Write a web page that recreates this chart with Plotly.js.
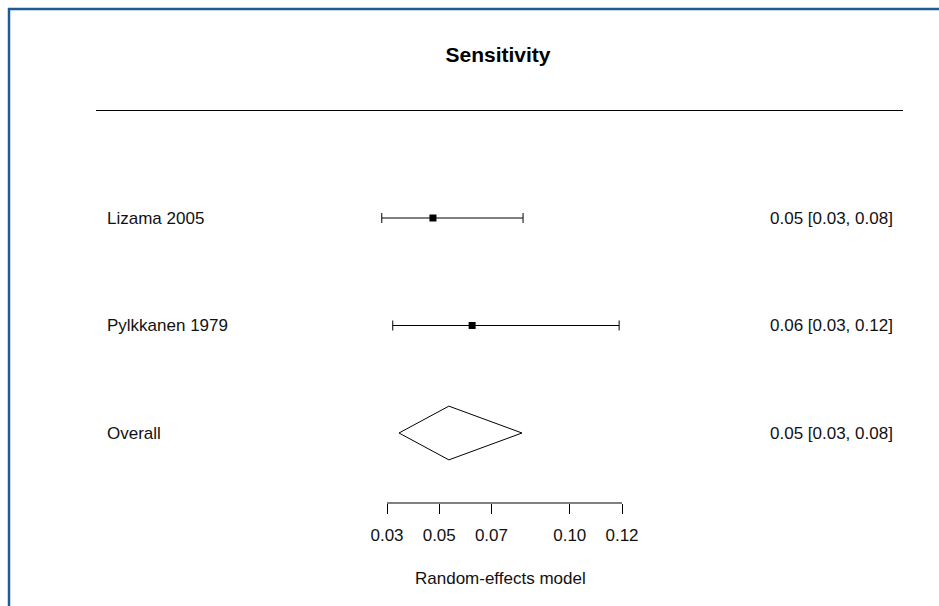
<!DOCTYPE html>
<html>
<head>
<meta charset="utf-8">
<script src="https://cdn.plot.ly/plotly-3.0.1.min.js"></script>
<style>
  html, body { margin: 0; padding: 0; background: #fff; }
  #chart { width: 939px; height: 606px; }
</style>
</head>
<body>
<div id="chart"></div>
<script>
// ---- data ----
const studies = ["Lizama 2005", "Pylkkanen 1979"];
const estimates = [0.0476, 0.0626];
const ciLower = [0.0280, 0.0322];
const ciUpper = [0.0821, 0.1189];

const overallLabel = "Overall";
const overallEstimate = 0.0537;
const overallLower = 0.0346;
const overallUpper = 0.0817;

const tickValues = [0.03, 0.05, 0.07, 0.10, 0.12];
const tickLabels = ["0.03", "0.05", "0.07", "0.10", "0.12"];

const chartTitle = "Sensitivity";
const axisLabel = "Random-effects model";

// ---- layout helpers ----
const W = 939, H = 606;
const FONT = "Liberation Sans, Arial, sans-serif";
const k = studies.length;
// study rows from top: k+1 ... 2, overall at 1
const rowY = studies.map((_, i) => k + 1 - i);
const overallY = 1;
const diamondH = 0.25;
const fmt = (v) => v.toFixed(2);
const ciText = (e, l, u) => fmt(e) + " [" + fmt(l) + ", " + fmt(u) + "]";

// axis pixel mapping: plot area spans the full width
const pxPerUnit = (622 - 387) / (tickValues[tickValues.length - 1] - tickValues[0]);
const xmin = tickValues[0] - 387 / pxPerUnit;
const xmax = tickValues[0] + (W - 387) / pxPerUnit;
const plotBottomPx = 503;
const rowPx = 107.5;
const ymin = overallY - (plotBottomPx - 433) / rowPx;
const ymax = overallY + 433 / rowPx;

const traces = [
  {
    type: "scatter",
    mode: "markers",
    x: estimates,
    y: rowY,
    marker: { symbol: "square", size: 7, color: "#000" },
    error_x: {
      type: "data",
      symmetric: false,
      array: estimates.map((e, i) => ciUpper[i] - e),
      arrayminus: estimates.map((e, i) => e - ciLower[i]),
      color: "#000",
      thickness: 1,
      width: 5
    },
    hoverinfo: "skip",
    showlegend: false
  },
  {
    type: "scatter",
    mode: "lines",
    x: [overallLower, overallEstimate, overallUpper, overallEstimate, overallLower],
    y: [overallY, overallY + diamondH, overallY, overallY - diamondH, overallY],
    line: { color: "#000", width: 1 },
    hoverinfo: "skip",
    showlegend: false
  }
];

const labelFont = { family: FONT, size: 17, color: "#111" };
const annotations = [];
studies.forEach((s, i) => {
  annotations.push({
    xref: "paper", yref: "y", x: 105 / W, y: rowY[i],
    text: s, showarrow: false, xanchor: "left", yanchor: "middle",
    font: labelFont
  });
  annotations.push({
    xref: "paper", yref: "y", x: 895 / W, y: rowY[i],
    text: ciText(estimates[i], ciLower[i], ciUpper[i]), showarrow: false,
    xanchor: "right", yanchor: "middle",
    font: labelFont
  });
});
annotations.push({
  xref: "paper", yref: "y", x: 105 / W, y: overallY,
  text: overallLabel, showarrow: false, xanchor: "left", yanchor: "middle",
  font: labelFont
});
annotations.push({
  xref: "paper", yref: "y", x: 895 / W, y: overallY,
  text: ciText(overallEstimate, overallLower, overallUpper), showarrow: false,
  xanchor: "right", yanchor: "middle",
  font: labelFont
});
annotations.push({
  xref: "paper", yref: "paper", x: 500 / W, y: (plotBottomPx - 578) / plotBottomPx,
  text: axisLabel, showarrow: false, xanchor: "center", yanchor: "middle",
  font: { family: FONT, size: 17, color: "#111" }
});

const shapes = [
  // header rule
  { type: "line", xref: "paper", yref: "y", x0: 96 / W, x1: 903 / W, y0: k + 2, y1: k + 2,
    line: { color: "#000", width: 1 } },
  // x axis line over the tick span
  { type: "line", xref: "x", yref: "paper", x0: tickValues[0], x1: tickValues[tickValues.length - 1],
    y0: 0, y1: 0, line: { color: "#000", width: 1 } },
  // blue frame (left and top edges)
  { type: "line", xref: "paper", yref: "paper", x0: 9 / W, x1: 9 / W,
    y0: (plotBottomPx - 8) / plotBottomPx, y1: (plotBottomPx - H - 5) / plotBottomPx,
    line: { color: "#1b5c96", width: 2.5 } },
  { type: "line", xref: "paper", yref: "paper", x0: 8 / W, x1: (W + 5) / W,
    y0: (plotBottomPx - 9) / plotBottomPx, y1: (plotBottomPx - 9) / plotBottomPx,
    line: { color: "#1b5c96", width: 2.5 } }
];

const layout = {
  width: W, height: H,
  margin: { l: 0, r: 0, t: 0, b: H - plotBottomPx, pad: 0 },
  paper_bgcolor: "#fff",
  plot_bgcolor: "#fff",
  title: {
    text: "<b>" + chartTitle + "</b>",
    x: 498 / W, xanchor: "center",
    y: 1 - 55 / H, yanchor: "middle", yref: "container",
    font: { family: FONT, size: 21, color: "#000" }
  },
  xaxis: {
    range: [xmin, xmax],
    showgrid: false, zeroline: false, showline: false,
    tickmode: "array", tickvals: tickValues, ticktext: tickLabels,
    ticks: "outside", ticklen: 10, tickwidth: 1, tickcolor: "#000",
    ticklabelstandoff: 7,
    tickfont: { family: FONT, size: 17, color: "#111" },
    fixedrange: true
  },
  yaxis: {
    range: [ymin, ymax],
    showgrid: false, zeroline: false, showline: false,
    showticklabels: false, ticks: "",
    fixedrange: true
  },
  shapes: shapes,
  annotations: annotations,
  showlegend: false
};

Plotly.newPlot("chart", traces, layout, { displayModeBar: false, staticPlot: true });
</script>
</body>
</html>
